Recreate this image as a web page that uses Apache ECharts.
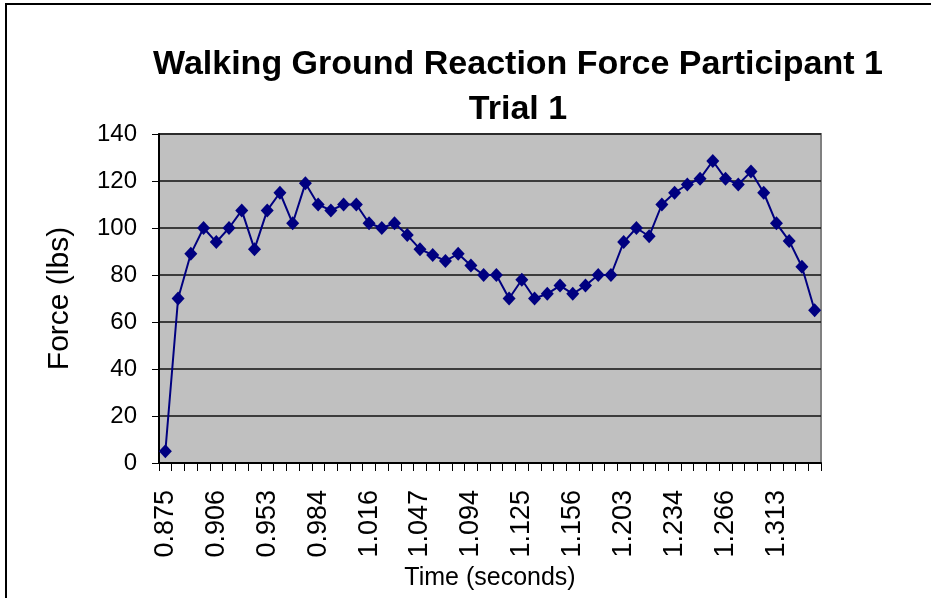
<!DOCTYPE html>
<html>
<head>
<meta charset="utf-8">
<script src="https://cdn.jsdelivr.net/npm/echarts@6/dist/echarts.min.js"></script>
<style>
  html, body { margin: 0; padding: 0; background: #fff; }
  #chart { width: 931px; height: 598px; }
</style>
</head>
<body>
<div id="chart"></div>
<script>
// time stamps (s), only every 4th is labelled
const times = [
  '0.875','0.883','0.891','0.898','0.906','0.914','0.922','0.938','0.953','0.961',
  '0.969','0.977','0.984','0.992','1.000','1.008','1.016','1.023','1.031','1.039',
  '1.047','1.055','1.063','1.078','1.094','1.102','1.109','1.117','1.125','1.133',
  '1.141','1.148','1.156','1.164','1.172','1.188','1.203','1.211','1.219','1.227',
  '1.234','1.242','1.250','1.258','1.266','1.273','1.281','1.297','1.313','1.320',
  '1.328','1.336'
]
// force (lbs)
const force = [
  5, 70, 89, 100, 94, 100, 107.5, 91, 107.5, 115,
  102, 119, 110, 107.5, 110, 110, 102, 100, 102, 97,
  91, 88.5, 86, 89, 84, 80, 80, 70, 78, 70,
  72, 75.5, 72, 75.5, 80, 80, 94, 100, 96.5, 110,
  115, 118.5, 121, 128.5, 121, 118.5, 124, 115, 102, 94.5,
  83.5, 65
]
const yTicks = { min: 0, max: 140, step: 20 }

const FONT = '"Liberation Sans", Arial, sans-serif'
const chart = echarts.init(document.getElementById('chart'), null, { renderer: 'canvas' })

chart.setOption({
  backgroundColor: '#fff',
  animation: false,
  title: {
    text: 'Walking Ground Reaction Force Participant 1\nTrial 1',
    left: 513, top: 37, textAlign: 'center',
    textStyle: { fontFamily: FONT, fontSize: 34, fontWeight: 'bold', color: '#000', lineHeight: 45 },
  },
  graphic: [{
    type: 'rect', silent: true, z: 100,
    shape: { x: 6, y: 4, width: 1200, height: 900 },
    style: { fill: 'none', stroke: '#000', lineWidth: 2 },
  }],
  grid: {
    left: 159, right: 110, top: 134, bottom: 135,
    show: true, backgroundColor: '#c0c0c0', borderColor: '#808080', borderWidth: 2,
  },
  xAxis: {
    type: 'category', data: times, boundaryGap: true,
    name: 'Time (seconds)', nameLocation: 'middle', nameGap: 103,
    nameTextStyle: { fontFamily: FONT, fontSize: 25, color: '#000', verticalAlign: 'top' },
    axisLine: { show: true, lineStyle: { color: '#000', width: 2 } },
    axisTick: { show: true, interval: 0, length: 8, lineStyle: { color: '#000', width: 1 } },
    axisLabel: { interval: 3, rotate: 90, margin: 27, fontFamily: FONT, fontSize: 27, color: '#000' },
    splitLine: { show: false },
  },
  yAxis: {
    type: 'value', min: yTicks.min, max: yTicks.max, interval: yTicks.step,
    name: 'Force (lbs)', nameLocation: 'middle', nameGap: 84,
    nameTextStyle: { fontFamily: FONT, fontSize: 30, color: '#000' },
    axisLine: { show: true, lineStyle: { color: '#000', width: 2 } },
    axisTick: { show: true, length: 7, lineStyle: { color: '#000', width: 1 } },
    axisLabel: { margin: 22, fontFamily: FONT, fontSize: 24, color: '#000' },
    splitLine: { show: true, lineStyle: { color: '#111', width: 1.5 } },
  },
  series: [{
    type: 'line', data: force,
    symbol: 'diamond', symbolSize: [13, 14],
    showSymbol: true, showAllSymbol: true,
    lineStyle: { color: '#000080', width: 2 },
    itemStyle: { color: '#000080' },
  }],
})
</script>
</body>
</html>
